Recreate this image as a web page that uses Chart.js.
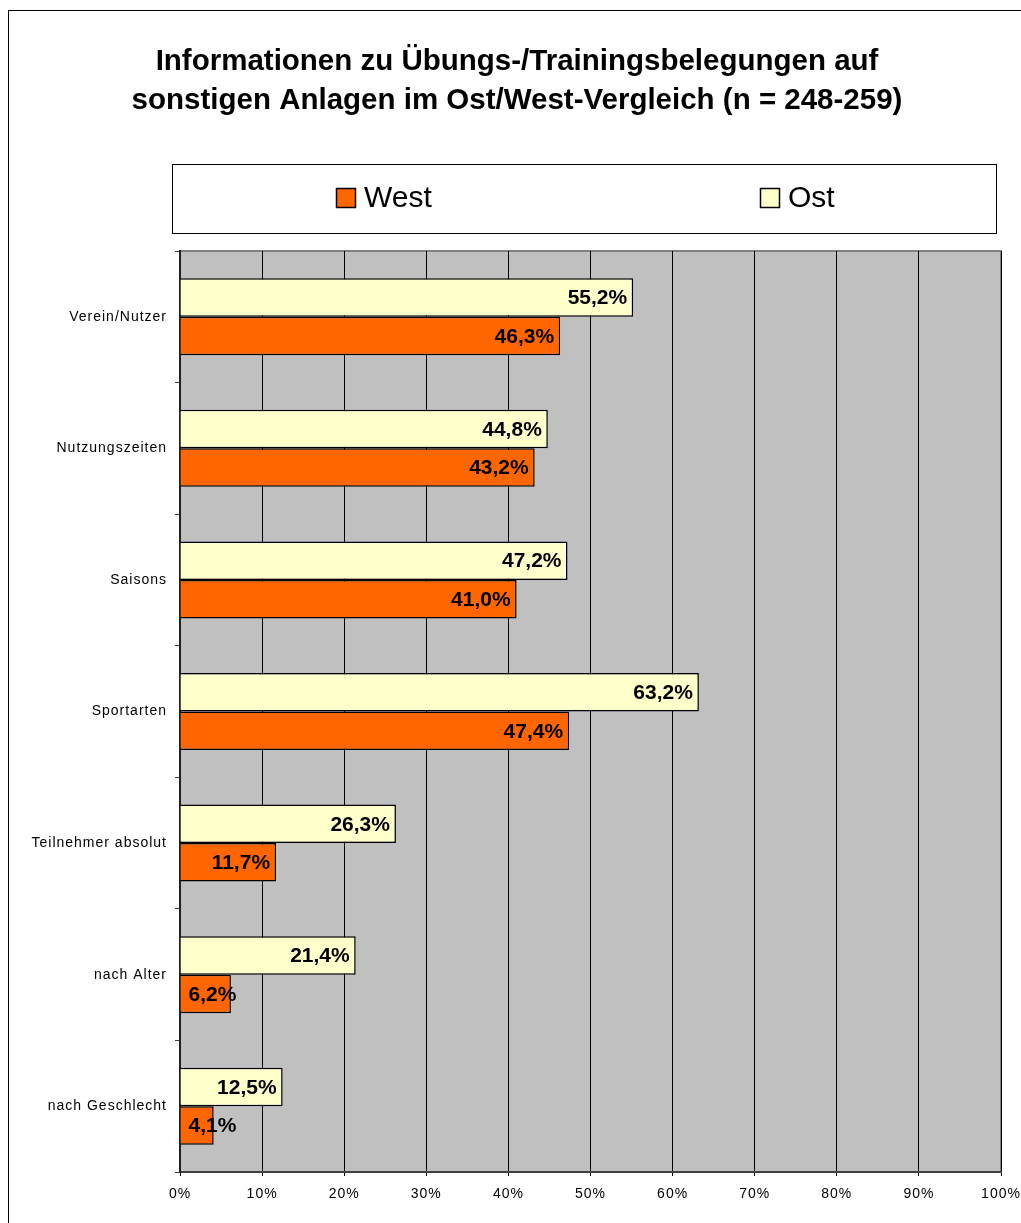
<!DOCTYPE html>
<html>
<head>
<meta charset="utf-8">
<script src="https://cdn.jsdelivr.net/npm/chart.js@4"></script>
<style>
  html, body { margin: 0; padding: 0; background: #fff; }
  #wrap { width: 1021px; height: 1223px; position: relative; }
</style>
</head>
<body>
<div id="wrap"><canvas id="chart" width="1021" height="1223"></canvas></div>
<script>
// Kategorien und Werte (Prozent)
const categories = ['Verein/Nutzer', 'Nutzungszeiten', 'Saisons', 'Sportarten', 'Teilnehmer absolut', 'nach Alter', 'nach Geschlecht'];
const ostValues = [55.2, 44.8, 47.2, 63.2, 26.3, 21.4, 12.5];
const westValues = [46.3, 43.2, 41.0, 47.4, 11.7, 6.2, 4.1];
const xTicks = [0, 10, 20, 30, 40, 50, 60, 70, 80, 90, 100];
const titleLines = ['Informationen zu Übungs-/Trainingsbelegungen auf', 'sonstigen Anlagen im Ost/West-Vergleich (n = 248-259)'];

const FONT = 'Arial, "Liberation Sans", sans-serif';
const fmt = v => v.toFixed(1).replace('.', ',') + '%';

// Rahmen, grauer Plotbereich, Titel und eigene Legende
const framePlugin = {
  id: 'frame',
  beforeDraw(chart) {
    const { ctx, chartArea: a } = chart;
    ctx.save();
    ctx.fillStyle = '#fff';
    ctx.fillRect(0, 0, chart.width, chart.height);
    ctx.strokeStyle = '#000';
    ctx.lineWidth = 1;
    ctx.strokeRect(8.5, 10.5, 1100, 1300);
    ctx.fillStyle = '#c0c0c0';
    ctx.fillRect(a.left, a.top, a.right - a.left, a.bottom - a.top);
    ctx.strokeStyle = '#808080';
    ctx.lineWidth = 2;
    ctx.strokeRect(a.left, a.top, a.right - a.left, a.bottom - a.top);
    ctx.restore();
    // Achsenbeschriftung leicht gesperrt
    ctx.letterSpacing = '1px';
  },
  beforeDatasetsDraw(chart) {
    chart.ctx.letterSpacing = '0px';
  },
  afterDraw(chart) {
    const { ctx } = chart;
    ctx.save();
    ctx.letterSpacing = '0px';
    // Titel
    ctx.font = 'bold 29.5px ' + FONT;
    ctx.fillStyle = '#000';
    ctx.textAlign = 'center';
    ctx.textBaseline = 'middle';
    titleLines.forEach((line, i) => ctx.fillText(line, 517, 62 + i * 39));

    // Legende
    ctx.textAlign = 'left';
    ctx.fillStyle = '#fff';
    ctx.strokeStyle = '#000';
    ctx.lineWidth = 1;
    ctx.fillRect(172.5, 164.5, 824, 69);
    ctx.strokeRect(172.5, 164.5, 824, 69);
    const items = [
      { ds: chart.data.datasets[1], x: 336 },
      { ds: chart.data.datasets[0], x: 760 }
    ];
    ctx.font = '30px ' + FONT;
    items.forEach(it => {
      ctx.fillStyle = it.ds.backgroundColor;
      ctx.fillRect(it.x + 0.5, 188.5, 19, 19);
      ctx.lineWidth = 1.5;
      ctx.strokeStyle = '#000';
      ctx.strokeRect(it.x + 0.5, 188.5, 19, 19);
      ctx.fillStyle = '#000';
      ctx.fillText(it.ds.label, it.x + 28, 199);
    });
    ctx.restore();
  }
};

// Wertebeschriftung am Balkenende
const valueLabels = {
  id: 'valueLabels',
  afterDatasetsDraw(chart) {
    const { ctx } = chart;
    ctx.save();
    ctx.font = 'bold 21px ' + FONT;
    ctx.fillStyle = '#000';
    ctx.textBaseline = 'middle';
    chart.data.datasets.forEach((ds, i) => {
      chart.getDatasetMeta(i).data.forEach((bar, j) => {
        const txt = fmt(ds.data[j]);
        const w = ctx.measureText(txt).width;
        if (w + 14 > bar.x - bar.base) {
          ctx.textAlign = 'left';
          ctx.fillText(txt, bar.base + 8, bar.y + 1);
        } else {
          ctx.textAlign = 'right';
          ctx.fillText(txt, bar.x - 6, bar.y + 1);
        }
      });
    });
    ctx.restore();
  }
};

new Chart(document.getElementById('chart'), {
  type: 'bar',
  data: {
    labels: categories,
    datasets: [
      { label: 'Ost', data: ostValues, backgroundColor: '#ffffcc', borderColor: '#000', borderWidth: 1.5 },
      { label: 'West', data: westValues, backgroundColor: '#ff6600', borderColor: '#000', borderWidth: 1.5 }
    ]
  },
  options: {
    indexAxis: 'y',
    responsive: false,
    animation: false,
    categoryPercentage: 0.585,
    barPercentage: 1,
    layout: { padding: { top: 251, left: 0, right: 20, bottom: 0 } },
    plugins: {
      legend: { display: false },
      tooltip: { enabled: false },
      title: { display: false }
    },
    scales: {
      x: {
        min: 0,
        max: 100,
        afterBuildTicks: s => { s.ticks = xTicks.map(v => ({ value: v })); },
        afterFit: s => { s.height = 51; s.paddingLeft = 0; s.paddingRight = 0; },
        ticks: {
          callback: v => v + '%',
          color: '#000',
          font: { family: FONT, size: 14 },
          padding: 10,
          maxRotation: 0
        },
        grid: { color: '#000', lineWidth: 1, tickLength: 4, drawTicks: true },
        border: { color: '#404040', width: 2 }
      },
      y: {
        afterFit: s => { s.width = 180; },
        ticks: {
          color: '#000',
          font: { family: FONT, size: 14 },
          padding: 8
        },
        grid: { drawOnChartArea: false, drawTicks: true, tickLength: 5, offset: true, color: '#404040' },
        border: { color: '#202020', width: 2 }
      }
    }
  },
  plugins: [framePlugin, valueLabels]
});
</script>
</body>
</html>
